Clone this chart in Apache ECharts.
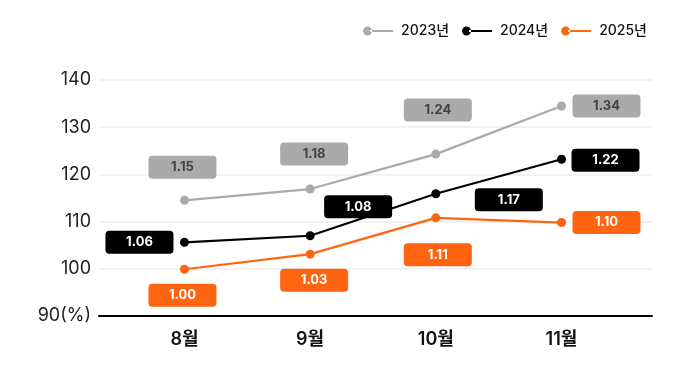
<!DOCTYPE html>
<html><head><meta charset="utf-8">
<script src="https://cdn.jsdelivr.net/npm/echarts@6/dist/echarts.min.js"></script>
<style>html,body{margin:0;padding:0;background:#fff}#c{width:689px;height:373px}</style>
</head><body><div id="c"></div>
<script>
const months = ['8월','9월','10월','11월'];
const seriesNames = ['2023년','2024년','2025년'];
const values2023 = [114.5, 116.9, 124.3, 134.5];
const values2024 = [105.6, 107.0, 115.9, 123.2];
const values2025 = [99.9, 103.1, 110.8, 109.8];
const labels2023 = ['1.15','1.18','1.24','1.34'];
const labels2024 = ['1.06','1.08','1.17','1.22'];
const labels2025 = ['1.00','1.03','1.11','1.10'];
const yTicks = [90, 100, 110, 120, 130, 140];

// label box offsets relative to point (styling)
const off2023 = [[-2,-33],[4,-35],[2,-44],[45,0]];
const off2024 = [[-45,0],[48,-29],[73,6],[44,1]];
const off2025 = [[-2,26],[4,26],[2,37],[45,0]];

const FONT = 'Inter, "Noto Sans CJK KR", sans-serif';
const colors = ['#aaaaaa', '#000000', '#ff6410'];
const textColors = ['#444444', '#ffffff', '#ffffff'];

function mk(name, vals, labs, offs, idx){
  return {
    name: name, type: 'line', color: colors[idx],
    data: vals.map((v,i)=>({
      value: [i, v],
      label: {
        show: true, position: 'inside', offset: offs[i],
        formatter: labs[i],
        backgroundColor: colors[idx], color: textColors[idx],
        borderRadius: 4, width: 68, height: 23, lineHeight: 23,
        align: 'center', verticalAlign: 'middle',
        fontFamily: FONT, fontSize: 13, fontWeight: 'bold'
      }
    })),
    symbol: 'circle', symbolSize: 9,
    lineStyle: { width: 2.2, color: colors[idx] },
    itemStyle: { color: colors[idx] },
    z: 3 + idx,
    label: { show: true },
    emphasis: { disabled: true },
    animation: false
  };
}

const chart = echarts.init(document.getElementById('c'), null, {renderer: 'canvas'});
chart.setOption({
  backgroundColor: '#fff',
  animation: false,
  legend: {
    right: 37, top: 19, itemWidth: 30, itemHeight: 9, itemGap: 13,
    icon: 'path://M0,4.5 a4.5,4.5 0 1,0 9,0 a4.5,4.5 0 1,0 -9,0 Z M7,3.5 H30 V5.5 H7 Z',
    textStyle: { fontFamily: FONT, fontSize: 14, fontWeight: 500, color: '#111', padding: [0,0,0,3] },
    data: seriesNames
  },
  grid: { left: 99, right: 37, top: 80, bottom: 57 },
  xAxis: {
    type: 'value', min: -0.68, max: 3.72,
    axisLine: { show: true, onZero: false, lineStyle: { color: '#000', width: 2 } },
    axisTick: { show: false },
    splitLine: { show: false },
    axisLabel: {
      customValues: [0,1,2,3],
      formatter: v => months[Math.round(v)],
      margin: 15, fontFamily: FONT, fontSize: 18, fontWeight: 600, color: '#111'
    }
  },
  yAxis: {
    type: 'value', min: 90, max: 140, interval: 10,
    axisLine: { show: false }, axisTick: { show: false },
    splitLine: { lineStyle: { color: '#eeeeee', width: 1.5 } },
    axisLabel: {
      customValues: yTicks,
      formatter: v => v === 90 ? '90(%)' : String(v),
      margin: 8, fontFamily: FONT, fontSize: 18, color: '#222'
    }
  },
  series: [
    mk(seriesNames[0], values2023, labels2023, off2023, 0),
    mk(seriesNames[1], values2024, labels2024, off2024, 1),
    mk(seriesNames[2], values2025, labels2025, off2025, 2)
  ]
});
</script></body></html>
